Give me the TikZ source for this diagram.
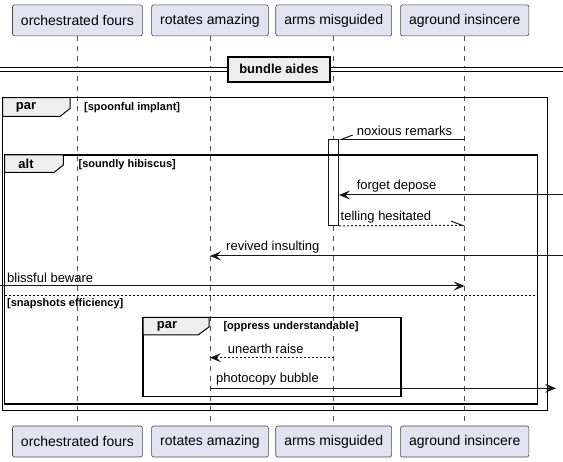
\documentclass[tikz,border=0pt]{standalone}
\usepackage{fontspec}
\setmainfont{Liberation Sans}
\usetikzlibrary{arrows.meta,positioning}
\definecolor{partfill}{HTML}{E2E2F0}
\definecolor{partline}{HTML}{181818}
\definecolor{tabfill}{HTML}{EEEEEE}
\tikzset{
  participant/.style={draw=partline!80,fill=partfill,line width=0.6pt,rounded corners=2pt,
    minimum height=31pt,inner xsep=8.5pt,font=\fontsize{14}{16}\selectfont},
  lifeline/.style={draw=partline!75,line width=0.7pt,dash pattern=on 5pt off 5pt},
  frame/.style={draw=black,line width=1.5pt},
  grouptab/.style={draw=black,line width=1pt,fill=tabfill},
  tablabel/.style={font=\bfseries\fontsize{13}{15}\selectfont,inner sep=0pt},
  guard/.style={font=\bfseries\fontsize{11}{13}\selectfont,anchor=west,inner sep=0pt},
  msglabel/.style={font=\fontsize{13}{15}\selectfont,anchor=west,inner sep=0pt},
  msg/.style={draw=partline,line width=1pt,-{Stealth[length=11pt,width=9pt,inset=4.5pt]}},
  reply/.style={msg,dash pattern=on 2pt off 2pt},
  halfmsg/.style={draw=partline,line width=1pt,-{Straight Barb[harpoon,length=11pt,width=8.6pt]}},
  divider/.style={draw=black,line width=1.5pt,fill=tabfill,minimum width=102pt,minimum height=25pt,
    inner sep=0pt,font=\bfseries\fontsize{13}{15}\selectfont},
  activation/.style={draw=partline,line width=1pt,fill=white,minimum width=9.7pt,inner sep=0pt}
}
\begin{document}
\begin{tikzpicture}[x=1pt,y=-1pt]
\useasboundingbox (0,0) rectangle (563,462);
% participants
\node[participant] (of) at (77.4,20.4) {orchestrated fours};
\node[participant] (ra) at (210,20.4) {rotates amazing};
\node[participant] (am) at (333.7,20.4) {arms misguided};
\node[participant] (ai) at (464.7,20.4) {aground insincere};
\node[participant] (ofb) at (77.4,441.5) {orchestrated fours};
\node[participant] (rab) at (210,441.5) {rotates amazing};
\node[participant] (amb) at (333.7,441.5) {arms misguided};
\node[participant] (aib) at (464.7,441.5) {aground insincere};
\draw[lifeline] (of) -- (ofb);
\draw[lifeline] (ra) -- (rab);
\draw[lifeline] (am) -- (amb);
\draw[lifeline] (ai) -- (aib);
% divider
\node[divider] (sep) at (279,69.3) {bundle aides};
\coordinate (sepl) at (0,69.3);
\coordinate (sepr) at (563,69.3);
\draw[line width=1pt,double,double distance=3.2pt] (sepl) -- (sep.west);
\draw[line width=1pt,double,double distance=3.2pt] (sep.east) -- (sepr);
% par spoonful implant
\draw[frame] (2.5,97.7) rectangle (547.7,410.7);
\draw[grouptab] (2.5,97.7) -- (70,97.7) -- (70,108.5) -- (60,116.5) -- (2.5,116.5) -- cycle;
\node[tablabel] (partab) at (26,107.3) {par};
\node[guard] (parguard) at (84,107.5) {[spoonful implant]};
% activation and noxious remarks
\node[activation,minimum height=86pt] (bar) at (333.7,182.3) {};
\coordinate (nr) at (464.7,139.3);
\draw[halfmsg,-{Straight Barb[harpoon,swap,length=11pt,width=8.6pt]}] (nr) -- (bar.east |- nr);
\node[msglabel] (nrl) at (356.6,130.8) {noxious remarks};
% alt soundly hibiscus
\draw[frame] (4.5,155) rectangle (537.3,404);
\draw[grouptab] (4.5,155) -- (63.3,155) -- (63.3,165) -- (54,172.5) -- (4.5,172.5) -- cycle;
\node[tablabel] (alttab) at (26,164) {alt};
\node[guard] (altguard) at (78.5,164.5) {[soundly hibiscus]};
\coordinate (fd) at (563,195);
\draw[msg] (fd) -- (bar.east |- fd);
\node[msglabel] (fdl) at (356.6,186.5) {forget depose};
\coordinate (th) at (464.7,225.3);
\draw[halfmsg,dash pattern=on 2pt off 2pt] (bar.south east) -- (th);
\node[msglabel] (thl) at (340.5,216.7) {telling hesitated};
\coordinate (ri1) at (563,256);
\coordinate (ri2) at (210,256);
\draw[msg] (ri1) -- (ri2);
\node[msglabel] (ril) at (226,247.3) {revived insulting};
\coordinate (bb1) at (0,286);
\coordinate (bb2) at (464.7,286);
\draw[msg] (bb1) -- (bb2);
\node[msglabel] (bbl) at (7,277.7) {blissful beware};
\draw[draw=black,line width=0.8pt,dash pattern=on 2pt off 2pt] (4.5,295.3) -- (537.3,295.3);
\node[guard] (elseguard) at (7,304) {[snapshots efficiency]};
% par oppress understandable
\draw[frame] (143,317.3) rectangle (401,396.7);
\draw[grouptab] (143,317.3) -- (209,317.3) -- (209,327) -- (198,335) -- (143,335) -- cycle;
\node[tablabel] (innertab) at (167,326.5) {par};
\node[guard] (innerguard) at (223.3,326.7) {[oppress understandable]};
\coordinate (ur1) at (333.7,357.7);
\coordinate (ur2) at (210,357.7);
\draw[reply] (ur1) -- (ur2);
\node[msglabel] (url) at (227.6,349) {unearth raise};
\coordinate (pb1) at (210,388.3);
\coordinate (pb2) at (556,388.3);
\draw[msg] (pb1) -- (pb2);
\node[msglabel] (pbl) at (216,379.3) {photocopy bubble};
\end{tikzpicture}
\end{document}
